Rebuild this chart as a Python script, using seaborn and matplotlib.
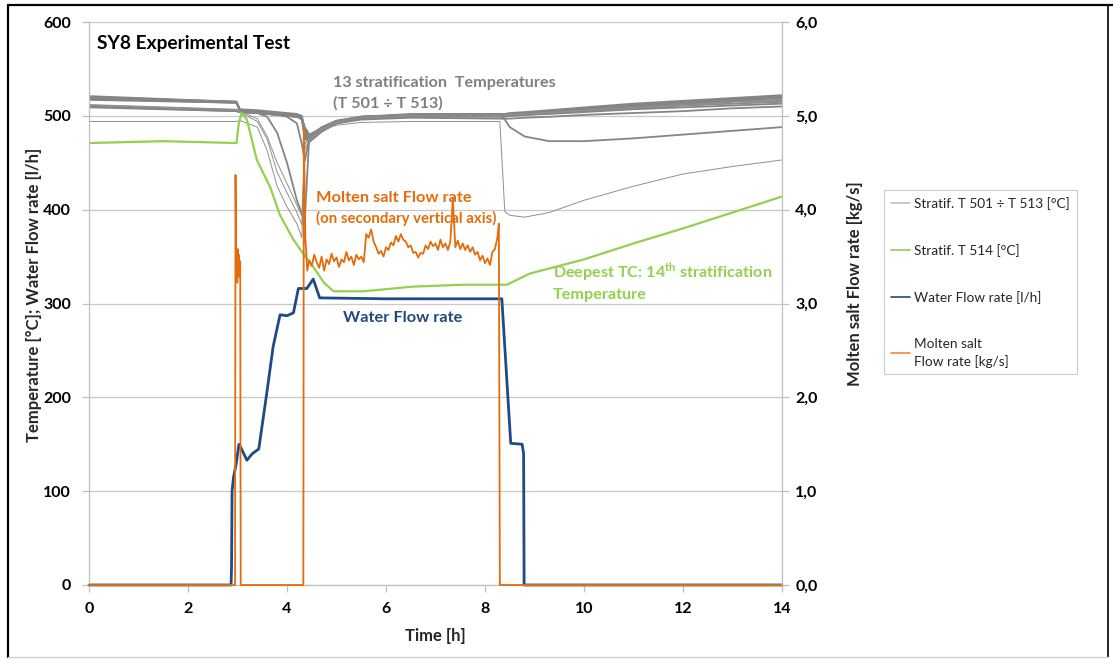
import numpy as np
import pandas as pd
import matplotlib
matplotlib.use("Agg")
import matplotlib.pyplot as plt
from matplotlib.lines import Line2D
from matplotlib.ticker import FuncFormatter, MultipleLocator
import seaborn as sns

# ---------------- data ----------------
# 13 stratification thermocouples T501..T513 [degC], common time grid [h]
T_GRAY = [0, 2.98, 3.05, 3.4, 3.6, 3.8, 4.0, 4.2, 4.3, 4.36, 4.45, 4.7, 5.0,
          5.5, 6.5, 8.3, 8.4, 8.5, 8.8, 9.3, 10.0, 11.0, 12.0, 13.0, 14.0]

S501 = [521, 515, 507, 506, 505, 504, 503, 502, 500, 482, 475, 486, 494, 499, 502, 502, 502, 503, 504, 506, 509, 513, 516, 519, 522]
S502 = [520, 515, 506, 505, 504, 503, 502, 501, 499, 486, 477, 487, 494, 499, 501, 501, 501, 502, 503, 505, 508, 512, 515, 518, 521]
S503 = [519, 514, 506, 505, 504, 503, 502, 501, 499, 479, 473, 484, 493, 498, 501, 501, 501, 502, 503, 505, 508, 511, 514, 517, 520]
S504 = [518, 514, 505, 504, 503, 502, 501, 500, 498, 484, 478, 488, 495, 499, 501, 501, 501, 501, 502, 504, 507, 510, 513, 516, 519]
S505 = [511, 506, 505, 504, 503, 502, 501, 500, 498, 477, 472, 483, 492, 498, 500, 500, 500, 501, 502, 504, 506, 509, 512, 515, 517]
S506 = [510, 506, 504, 503, 502, 501, 500, 499, 497, 488, 480, 487, 494, 498, 500, 500, 500, 500, 501, 503, 505, 508, 511, 513, 515]
S507 = [510, 505, 504, 503, 502, 501, 500, 499, 497, 475, 474, 484, 492, 497, 499, 499, 499, 500, 501, 502, 504, 507, 509, 511, 513]
S508 = [509, 505, 504, 503, 502, 501, 500, 499, 496, 481, 476, 485, 492, 496, 498, 497, 497, 497, 498, 499, 501, 503, 505, 508, 510]
S509 = [519, 515, 506, 505, 504, 502, 499, 492, 470, 452, 476, 486, 494, 499, 501, 501, 501, 502, 503, 505, 508, 511, 514, 517, 520]
S510 = [517, 514, 505, 503, 499, 482, 450, 410, 396, 389, 478, 487, 494, 499, 500, 500, 496, 488, 478, 473, 473, 476, 480, 484, 488]
S511 = [512, 507, 505, 497, 478, 450, 428, 405, 393, 465, 474, 485, 493, 498, 500, 500, 500, 501, 502, 504, 506, 509, 512, 515, 517]
S512 = [511, 506, 504, 494, 475, 440, 418, 397, 384, 470, 476, 486, 493, 498, 500, 500, 500, 501, 502, 503, 506, 508, 511, 513, 516]
S513 = [494, 494, 495, 488, 463, 425, 403, 385, 370, 470, 476, 485, 490, 493, 494, 494, 398, 394, 392, 397, 410, 425, 438, 446, 453]

# deepest thermocouple T514 [degC]
T_GREEN = [0, 1.5, 2.98, 3.02, 3.08, 3.19, 3.39, 3.66, 3.86, 4.13, 4.33, 4.53,
           4.75, 4.94, 5.54, 6.55, 7.56, 8.44, 8.91, 10.0, 11.0, 12.0, 13.0, 14.0]
V_GREEN = [471, 473, 471, 490, 503, 496, 453, 424, 394, 368, 353, 339,
           322, 313, 313, 318, 320, 320, 332, 347, 364, 380, 397, 414]

# water flow rate [l/h]
T_WATER = [0, 2.87, 2.88, 2.89, 2.92, 2.97, 3.03, 3.08, 3.19, 3.3, 3.43, 3.59, 3.72,
           3.86, 4.0, 4.13, 4.23, 4.4, 4.53, 4.66, 6.0, 8.34, 8.52, 8.75, 8.78, 8.79, 14]
V_WATER = [0, 0, 20, 100, 115, 128, 150, 145, 133, 140, 145, 204, 254,
           288, 287, 290, 316, 316, 326, 306, 305, 305, 151, 150, 140, 0, 0]

# molten salt flow rate [kg/s] (secondary axis)
T_SALT = [0, 2.95, 2.96, 2.975, 2.985, 2.995, 3.005, 3.015, 3.025, 3.04, 3.055, 3.065,
          4.33, 4.34, 4.37, 4.41,
          4.45, 4.50, 4.55, 4.60, 4.65, 4.70, 4.75, 4.80, 4.85, 4.90, 4.95, 5.00,
          5.05, 5.10, 5.15, 5.20, 5.25, 5.30, 5.35, 5.40, 5.45, 5.50, 5.55, 5.60,
          5.65, 5.70, 5.75, 5.80, 5.85, 5.90, 5.95, 6.00, 6.05, 6.10, 6.15, 6.20,
          6.25, 6.30, 6.35, 6.40, 6.45, 6.50, 6.55, 6.60, 6.65, 6.70, 6.75, 6.80,
          6.85, 6.90, 6.95, 7.00, 7.05, 7.10, 7.15, 7.20, 7.25, 7.30, 7.35, 7.40,
          7.45, 7.50, 7.55, 7.60, 7.65, 7.70, 7.75, 7.80, 7.85, 7.90, 7.95, 8.00,
          8.05, 8.10, 8.15, 8.20, 8.25, 8.28, 8.30, 14]
V_SALT = [0, 0, 4.37, 3.30, 3.55, 3.22, 3.58, 3.35, 3.52, 3.28, 3.45, 0,
          0, 4.90, 3.70, 3.35,
          3.46, 3.40, 3.52, 3.44, 3.38, 3.50, 3.35, 3.47, 3.42, 3.53, 3.45, 3.49,
          3.39, 3.47, 3.44, 3.55, 3.46, 3.50, 3.41, 3.52, 3.47, 3.50, 3.44, 3.74,
          3.70, 3.79, 3.66, 3.60, 3.53, 3.56, 3.50, 3.60, 3.57, 3.65, 3.62, 3.72,
          3.66, 3.74, 3.68, 3.66, 3.60, 3.62, 3.54, 3.55, 3.49, 3.54, 3.53, 3.62,
          3.58, 3.66, 3.61, 3.64, 3.57, 3.68, 3.60, 3.64, 3.57, 3.66, 4.12, 3.60,
          3.67, 3.58, 3.64, 3.57, 3.62, 3.55, 3.60, 3.52, 3.55, 3.46, 3.51, 3.43,
          3.48, 3.41, 3.55, 3.58, 3.70, 3.85, 0, 0]

gray_curves = [S501, S502, S503, S504, S505, S506, S507, S508, S509, S510, S511, S512, S513]
thin_ids = [10, 11, 12]

rows = []
for i, vals in enumerate(gray_curves):
    for t, v in zip(T_GRAY, vals):
        rows.append((t, v, i))
df_gray = pd.DataFrame(rows, columns=["t", "temp", "sensor"])
df_green = pd.DataFrame({"t": T_GREEN, "temp": V_GREEN})
df_water = pd.DataFrame({"t": T_WATER, "flow": V_WATER})
df_salt = pd.DataFrame({"t": T_SALT, "flow": V_SALT})

C_GRAY = "#858585"
C_GREEN = "#92d050"
C_BLUE = "#1f4a86"
C_ORANGE = "#e46c0a"
C_AXIS = "#bfbfbf"

sns.set_theme(style="white")
plt.rcParams["font.family"] = ["Lato", "DejaVu Sans"]
plt.rcParams["mathtext.fontset"] = "custom"
plt.rcParams["mathtext.rm"] = "Lato"
plt.rcParams["mathtext.bf"] = "Lato:bold"

W, H = 1113, 659
fig = plt.figure(figsize=(W / 100, H / 100), dpi=100)
ax = fig.add_axes([89 / W, (H - 585) / H, 693 / W, 563 / H])
ax2 = ax.twinx()

sns.lineplot(data=df_gray[~df_gray.sensor.isin(thin_ids)], x="t", y="temp", units="sensor",
             estimator=None, sort=False, color=C_GRAY, lw=1.3, ax=ax, legend=False)
sns.lineplot(data=df_gray[df_gray.sensor.isin(thin_ids)], x="t", y="temp", units="sensor",
             estimator=None, sort=False, color="#8f8f8f", lw=0.7, ax=ax, legend=False)
sns.lineplot(data=df_green, x="t", y="temp", estimator=None, sort=False,
             color=C_GREEN, lw=1.6, ax=ax)
sns.lineplot(data=df_water, x="t", y="flow", estimator=None, sort=False,
             color=C_BLUE, lw=2.0, ax=ax, clip_on=False)
sns.lineplot(data=df_salt, x="t", y="flow", estimator=None, sort=False,
             color=C_ORANGE, lw=1.3, ax=ax2, clip_on=False)

# axes
ax.set_xlim(0, 14)
ax.set_ylim(0, 600)
ax2.set_ylim(0, 6)
ax.xaxis.set_major_locator(MultipleLocator(2))
ax.yaxis.set_major_locator(MultipleLocator(100))
ax2.yaxis.set_major_locator(MultipleLocator(1))
ax2.yaxis.set_major_formatter(FuncFormatter(lambda v, _: f"{v:.1f}".replace(".", ",")))
ax.set_xlabel("")
ax.set_ylabel("")
ax2.set_ylabel("")
ax.yaxis.grid(True, color="#c8c8c8", lw=0.9)
ax.set_axisbelow(True)

for s in ["top", "right"]:
    ax.spines[s].set_visible(False)
for s in ["left", "bottom"]:
    ax.spines[s].set_color(C_AXIS)
    ax.spines[s].set_linewidth(0.9)
for s in ["top", "left", "bottom"]:
    ax2.spines[s].set_visible(False)
ax2.spines["right"].set_color(C_AXIS)
ax2.spines["right"].set_linewidth(0.9)

ax.tick_params(axis="x", direction="out", length=5, width=0.9, color=C_AXIS,
               labelsize=11.5, pad=7, bottom=True)
ax.tick_params(axis="y", direction="out", length=5, width=0.9, color=C_AXIS,
               labelsize=11.5, pad=8, left=True)
ax2.tick_params(axis="y", direction="out", length=5, width=0.9, color=C_AXIS,
                labelsize=11.5, pad=4.5, right=True)
for lab in ax.get_xticklabels() + ax.get_yticklabels() + ax2.get_yticklabels():
    lab.set_fontweight("bold")
    lab.set_color("black")

# axis titles
fig.text(34 / W, 1 - 295 / H, "Temperature [°C]; Water Flow rate [l/h]", rotation=90,
         ha="center", va="center", fontsize=12, fontweight="bold")
fig.text(855 / W, 1 - 284 / H, "Molten salt Flow rate [kg/s]", rotation=90,
         ha="center", va="center", fontsize=12, fontweight="bold")
fig.text(435 / W, 1 - 636 / H, "Time [h]", ha="center", va="center",
         fontsize=12, fontweight="bold")

# annotations
fig.text(97 / W, 1 - 43 / H, "SY8 Experimental Test", ha="left", va="center",
         fontsize=13.8, fontweight="bold", color="black")
fig.text(333 / W, 1 - 83 / H, "13 stratification  Temperatures", ha="left", va="center",
         fontsize=11.6, fontweight="bold", color="#7f7f7f")
fig.text(333 / W, 1 - 103 / H, "(T 501 ÷ T 513)", ha="left", va="center",
         fontsize=11.6, fontweight="bold", color="#7f7f7f")
fig.text(316 / W, 1 - 198 / H, "Molten salt Flow rate", ha="left", va="center",
         fontsize=11.8, fontweight="bold", color=C_ORANGE)
fig.text(316 / W, 1 - 218 / H, "(on secondary vertical axis)", ha="left", va="center",
         fontsize=10.8, fontweight="bold", color=C_ORANGE)
fig.text(553 / W, 1 - 272 / H, r"Deepest TC: 14$^{\mathbf{th}}$ stratification", ha="left",
         va="center", fontsize=11.6, fontweight="bold", color=C_GREEN)
fig.text(553 / W, 1 - 295 / H, "Temperature", ha="left", va="center",
         fontsize=11.6, fontweight="bold", color=C_GREEN)
fig.text(343 / W, 1 - 318 / H, "Water Flow rate", ha="left", va="center",
         fontsize=11.8, fontweight="bold", color="#1f497d")

# legend
handles = [Line2D([], [], color="#c0c0c0", lw=1.2),
           Line2D([], [], color=C_GREEN, lw=1.2),
           Line2D([], [], color=C_BLUE, lw=1.2),
           Line2D([], [], color="#f08a3c", lw=1.2)]
labels = ["Stratif. T 501 ÷ T 513 [°C]", "Stratif. T 514 [°C]",
          "Water Flow rate [l/h]", "Molten salt\nFlow rate [kg/s]"]
leg = fig.legend(handles, labels, loc="upper left", bbox_to_anchor=(884 / W, 1 - 190 / H),
                 frameon=True, fancybox=False, fontsize=9.8, handlelength=1.4,
                 handletextpad=0.3, labelspacing=2.5, borderpad=0.5, borderaxespad=0)
leg.get_frame().set_edgecolor(C_AXIS)
leg.get_frame().set_linewidth(0.8)
for txt in leg.get_texts():
    txt.set_color("#262626")
    txt.set_linespacing(1.45)

# outer frame
fig.add_artist(Line2D([8 / W, 8 / W], [1 - 5 / H, 1 - 657 / H], transform=fig.transFigure, color="black", lw=1.6))
fig.add_artist(Line2D([8 / W, 1], [1 - 5 / H, 1 - 5 / H], transform=fig.transFigure, color="black", lw=1.6))
fig.add_artist(Line2D([1108 / W, 1108 / W], [1 - 5 / H, 1 - 657 / H], transform=fig.transFigure, color="black", lw=1.2))
fig.add_artist(Line2D([8 / W, 1108 / W], [1 - 657 / H, 1 - 657 / H], transform=fig.transFigure, color="#d0d0d0", lw=1.0))

fig.savefig("out.png", dpi=100)
